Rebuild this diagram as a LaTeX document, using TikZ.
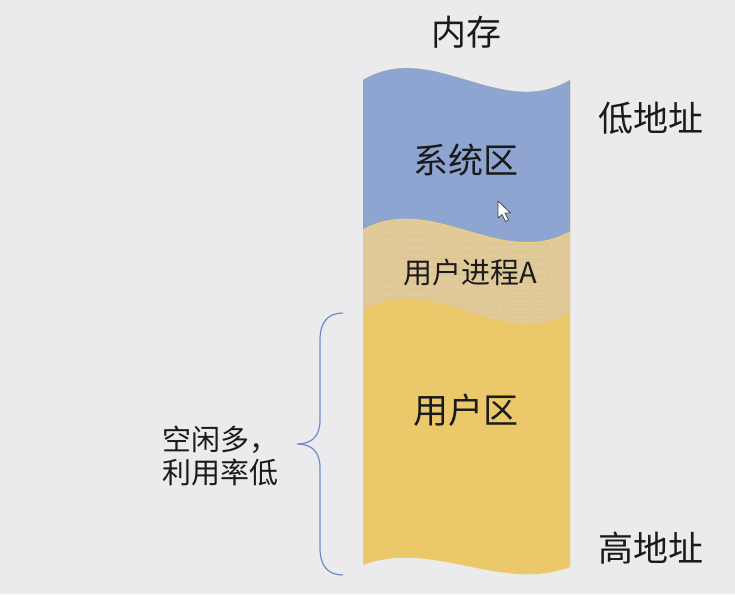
\documentclass[tikz,border=0pt]{standalone}
\usepackage{fontspec}
\setmainfont{Noto Sans CJK SC}
\definecolor{bg}{HTML}{EBEAED}
\definecolor{sysblue}{HTML}{8EA5D1}
\definecolor{tan}{HTML}{E1CA99}
\definecolor{tanline}{HTML}{CDB27C}
\definecolor{useryellow}{HTML}{EBC96A}
\definecolor{edgeyellow}{HTML}{E9D27A}
\definecolor{bracecol}{HTML}{6F8CC8}
\definecolor{ink}{HTML}{1A1A1A}
\tikzset{
  big/.style={text=ink, font=\fontsize{35}{40}\selectfont, inner sep=0pt},
  mid/.style={text=ink, font=\fontsize{29}{33}\selectfont, inner sep=0pt},
  note/.style={text=ink, font=\fontsize{29}{33}\selectfont, inner sep=0pt, align=left, anchor=west},
}
\begin{document}
\begin{tikzpicture}[x=1pt,y=-1pt]
\fill[bg] (0,0) rectangle (735,594);
\useasboundingbox (0,0) rectangle (735,594);
% whole column (yellow)
\fill[useryellow] (363,80) .. controls (432,39) and (501,121) .. (570,80)
  -- (570,567) .. controls (501,593) and (432,539) .. (363,565) -- cycle;
% tan band
\fill[tan] (363,80) .. controls (432,39) and (501,121) .. (570,80)
  -- (570,312) .. controls (501,353) and (432,269) .. (363,310) -- cycle;
% faint texture on tan band
\begin{scope}
\clip (363,230) .. controls (432,192) and (501,270) .. (570,232)
  -- (570,312) .. controls (501,353) and (432,269) .. (363,310) -- cycle;
\foreach \yy in {236,243,251,258,266,274,281,289,297,305,313}
  \draw[tanline, line width=0.6pt, opacity=0.3] (363,\yy) -- (570,\yy+2);
\foreach \xx in {372,389,405,423,441,458,476,494,511,529,547,563}
  \draw[tanline, line width=0.5pt, opacity=0.25] (\xx,225) -- (\xx+3,325);
\end{scope}
% blue system area
\fill[sysblue] (363,80) .. controls (432,39) and (501,121) .. (570,80)
  -- (570,232) .. controls (501,270) and (432,192) .. (363,230) -- cycle;
\draw[edgeyellow, line width=1.2pt] (363,230) .. controls (432,192) and (501,270) .. (570,232);
% cursor
\draw[fill=white, draw=ink!80, line width=0.8pt, line join=round]
  (498,201) -- (498,218) -- (502,214.5) -- (505.5,221.5) -- (508.5,220) -- (505,213) -- (510.5,213) -- cycle;
% labels
\node[big] (mem) at (466,32) {内存};
\node[big] (low) at (651,118) {低地址};
\node[big] (sys) at (466,160) {系统区};
\node[mid] (procA) at (470,272) {用户进程A};
\node[big] (user) at (466,410) {用户区};
\node[big] (high) at (651,548) {高地址};
\node[note] (free) at (162,456) {空闲多，\\利用率低};
% brace
\draw[bracecol, line width=1.2pt]
  (343,313) .. controls (328,313) and (320,322) .. (320,340) -- (320,420)
  .. controls (320,436) and (312,444) .. (297,444)
  .. controls (312,444) and (320,452) .. (320,468) -- (320,548)
  .. controls (320,566) and (328,575) .. (343,575);
\end{tikzpicture}
\end{document}
